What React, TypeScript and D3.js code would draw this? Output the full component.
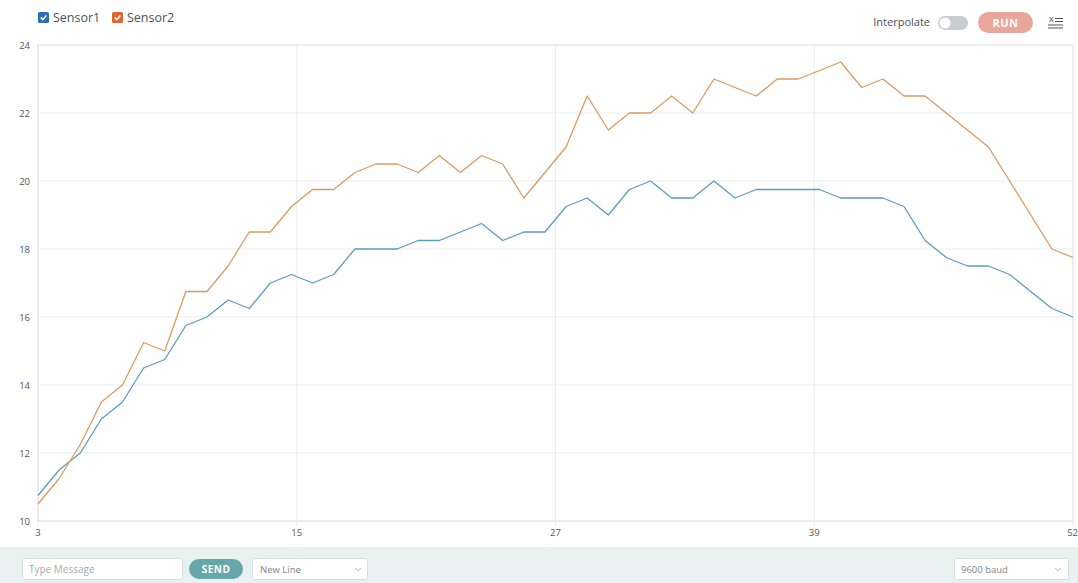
import React from "react";
import * as d3 from "d3";

const sampleIndex: number[] = d3.range(3, 53);
const sensor1: number[] = [10.75, 11.5, 12, 13, 13.5, 14.5, 14.75, 15.75, 16, 16.5, 16.25, 17, 17.25, 17, 17.25, 18, 18, 18, 18.25, 18.25, 18.5, 18.75, 18.25, 18.5, 18.5, 19.25, 19.5, 19, 19.75, 20, 19.5, 19.5, 20, 19.5, 19.75, 19.75, 19.75, 19.75, 19.5, 19.5, 19.5, 19.25, 18.25, 17.75, 17.5, 17.5, 17.25, 16.75, 16.25, 16];
const sensor2: number[] = [10.5, 11.25, 12.25, 13.5, 14, 15.25, 15, 16.75, 16.75, 17.5, 18.5, 18.5, 19.25, 19.75, 19.75, 20.25, 20.5, 20.5, 20.25, 20.75, 20.25, 20.75, 20.5, 19.5, 20.25, 21, 22.5, 21.5, 22, 22, 22.5, 22, 23, 22.75, 22.5, 23, 23, 23.25, 23.5, 22.75, 23, 22.5, 22.5, 22, 21.5, 21, 20, 19, 18, 17.75];
const seriesNames: string[] = ["Sensor1", "Sensor2"];
const xTickValues: number[] = [3, 15, 27, 39, 51];
const xTickLabels: string[] = ["3", "15", "27", "39", "52"];
const yTicks: number[] = [10, 12, 14, 16, 18, 20, 22, 24];

const W = 1078, H = 583;
const M = { left: 38, right: 1073, top: 45, bottom: 521 };
const FONT = "'Open Sans', 'Noto Sans', sans-serif";
const lineColors = ["#5e9bc2", "#dc9a64"];
const boxColors = ["#2a72b5", "#e0662e"];

export default function App() {
  const xData = d3.scaleLinear().domain([3, 52]).range([M.left, M.right]);
  const xAxis = d3.scaleLinear().domain([3, 51]).range([M.left, M.right]);
  const y = d3.scaleLinear().domain([10, 24]).range([M.bottom, M.top]);
  const line = d3.line<number>().x((_, i) => xData(sampleIndex[i])).y((d) => y(d));
  const series = [sensor1, sensor2];

  return (
    <svg width={W} height={H} style={{ position: "absolute", left: 0, top: 0, display: "block", background: "#fff" }} fontFamily={FONT}>
      {/* legend */}
      {seriesNames.map((name, i) => {
        const x0 = i === 0 ? 38 : 112;
        return (
          <g key={name}>
            <rect x={x0} y={12} width={11} height={11} rx={1.5} fill={boxColors[i]} />
            <path d={`M${x0 + 2.8},${17.6} L${x0 + 4.8},${19.6} L${x0 + 8.4},${15.4}`} fill="none" stroke="#fff" strokeWidth={1.5} />
            <text x={x0 + 15} y={21.5} fontSize={12.5} fill="#4a5358">{name}</text>
          </g>
        );
      })}
      {/* top right controls */}
      <text x={930} y={26} fontSize={11} fill="#4a5358" textAnchor="end">Interpolate</text>
      <rect x={938} y={16} width={30} height={14} rx={7} fill="#c6ced2" />
      <circle cx={945} cy={23} r={5.5} fill="#fff" />
      <rect x={978} y={12} width={55} height={21} rx={10.5} fill="#e9a79c" />
      <text x={1005.5} y={26.5} fontSize={11} fontWeight={700} fill="#fff" textAnchor="middle" letterSpacing={0.5}>RUN</text>
      <text x={1049} y={22} fontSize={9} fill="#4a5358">x</text>
      <line x1={1055} y1={18.5} x2={1063} y2={18.5} stroke="#4a5358" strokeWidth={1} />
      <line x1={1055} y1={21.5} x2={1063} y2={21.5} stroke="#4a5358" strokeWidth={1} />
      <line x1={1048} y1={25} x2={1063} y2={25} stroke="#4a5358" strokeWidth={1} />
      <line x1={1048} y1={28} x2={1063} y2={28} stroke="#4a5358" strokeWidth={1} />

      {/* grid */}
      {yTicks.map((t) => (
        <g key={"y" + t}>
          <line x1={M.left} x2={M.right} y1={y(t)} y2={y(t)} stroke="#ececec" strokeWidth={1} />
          <text x={30} y={y(t) + 3.5} fontSize={9.5} fill="#555" textAnchor="end">{t}</text>
        </g>
      ))}
      {xTickValues.map((t, i) => (
        <g key={"x" + t}>
          <line x1={xAxis(t)} x2={xAxis(t)} y1={M.top} y2={M.bottom + 5} stroke="#ececec" strokeWidth={1} />
          <text x={xAxis(t)} y={536} fontSize={9.5} fill="#555" textAnchor={i === xTickValues.length - 1 ? "end" : "middle"} dx={i === xTickValues.length - 1 ? 5 : 0}>{xTickLabels[i]}</text>
        </g>
      ))}
      <rect x={M.left} y={M.top} width={M.right - M.left} height={M.bottom - M.top} fill="none" stroke="#e4e4e4" strokeWidth={1} />

      {/* lines */}
      {series.map((s, i) => (
        <path key={i} d={line(s) || ""} fill="none" stroke={lineColors[i]} strokeWidth={1.3} strokeLinejoin="round" />
      ))}

      {/* bottom bar */}
      <rect x={0} y={547} width={W} height={H - 547} fill="#e9f0f0" />
      <rect x={22.5} y={558.5} width={160} height={21} rx={2} fill="#fff" stroke="#d8dfe0" />
      <text x={29} y={573} fontSize={10} fill="#a3acb0">Type Message</text>
      <rect x={189} y={559} width={54} height={20} rx={10} fill="#66a8aa" />
      <text x={216} y={573} fontSize={10} fontWeight={700} fill="#fff" textAnchor="middle" letterSpacing={0.5}>SEND</text>
      <rect x={252.5} y={558.5} width={115} height={21} rx={2} fill="#fff" stroke="#d8dfe0" />
      <text x={260} y={573} fontSize={9.5} fill="#7c868a">New Line</text>
      <path d="M355,568 L358,571 L361,568" fill="none" stroke="#b8c0c3" strokeWidth={0.9} />
      <rect x={954.5} y={558.5} width={114} height={21} rx={2} fill="#fff" stroke="#d8dfe0" />
      <text x={961} y={573} fontSize={9.5} fill="#7c868a">9600 baud</text>
      <path d="M1055,568 L1058,571 L1061,568" fill="none" stroke="#b8c0c3" strokeWidth={0.9} />
    </svg>
  );
}
